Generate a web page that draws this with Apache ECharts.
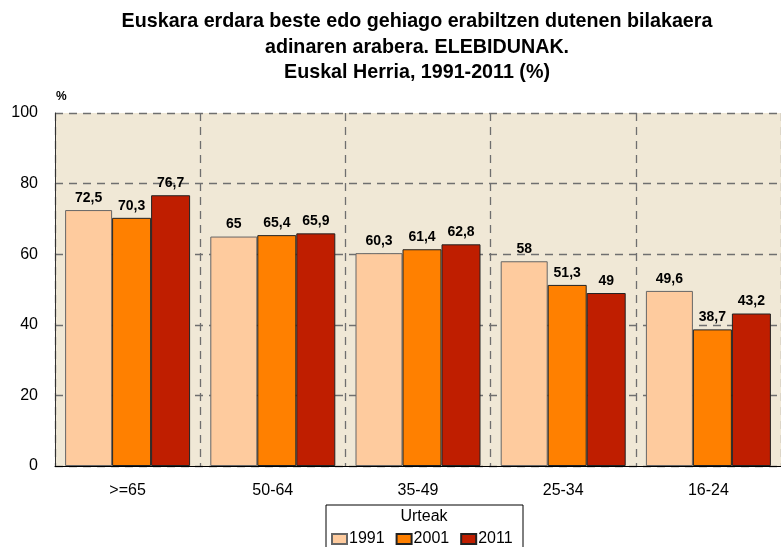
<!DOCTYPE html>
<html>
<head>
<meta charset="utf-8">
<script src="https://cdn.jsdelivr.net/npm/echarts@6/dist/echarts.min.js"></script>
<style>
  html, body { margin: 0; padding: 0; background: #fff; }
  #chart { width: 781px; height: 547px; }
</style>
</head>
<body>
<div id="chart"></div>
<script>
// adin taldeak
const categories = ['>=65', '50-64', '35-49', '25-34', '16-24']
const years = ['1991', '2001', '2011']
const values1991 = [72.5, 65, 60.3, 58, 49.6]
const values2001 = [70.3, 65.4, 61.4, 51.3, 38.7]
const values2011 = [76.7, 65.9, 62.8, 49, 43.2]
const yTicks = [0, 20, 40, 60, 80, 100]

const colors = ['#FECB9E', '#FF8000', '#BF1E00']
const widths = [47, 39, 39]
const seriesData = [values1991, values2001, values2011]

const chart = echarts.init(document.getElementById('chart'))

const fontFamily = 'Liberation Sans, Arial, sans-serif'

chart.setOption({
  animation: false,
  textStyle: { fontFamily: fontFamily },
  title: {
    text: 'Euskara erdara beste edo gehiago erabiltzen dutenen bilakaera\nadinaren arabera. ELEBIDUNAK.\nEuskal Herria, 1991-2011 (%)',
    left: 412,
    top: 4,
    textAlign: 'center',
    textStyle: {
      fontSize: 19.7,
      fontWeight: 'bold',
      color: '#000',
      lineHeight: 25.5,
      fontFamily: fontFamily,
    },
  },
  grid: {
    left: 55,
    top: 113,
    width: 736,
    height: 353,
    show: true,
    backgroundColor: '#F0E8D6',
    borderWidth: 0,
  },
  legend: {
    left: 331,
    top: 531,
    icon: 'rect',
    itemWidth: 15,
    itemHeight: 10,
    itemGap: 11,
    padding: 0,
    data: years,
    textStyle: { fontSize: 16, color: '#000', fontFamily: fontFamily, padding: [0, 0, 0, -3] },
  },
  graphic: [
    {
      type: 'rect',
      shape: { x: 326, y: 505, width: 197, height: 50 },
      style: { fill: 'none', stroke: '#000', lineWidth: 1 },
      z: 10,
    },
    {
      type: 'text',
      x: 424,
      y: 517,
      style: {
        text: 'Urteak',
        fill: '#000',
        font: '16px ' + fontFamily,
        align: 'center',
        verticalAlign: 'middle',
      },
      z: 10,
    },
  ],
  xAxis: {
    type: 'category',
    data: categories,
    axisLine: { lineStyle: { color: '#000', width: 1 } },
    axisTick: { show: false },
    axisLabel: { fontSize: 16, color: '#000', margin: 17 },
    splitLine: {
      show: true,
      lineStyle: { color: '#6f6f6f', type: [8, 6], width: 1.3 },
    },
  },
  yAxis: {
    type: 'value',
    min: yTicks[0],
    max: yTicks[yTicks.length - 1],
    interval: 20,
    name: '%',
    nameGap: 10,
    nameTextStyle: { fontSize: 12, fontWeight: 'bold', color: '#000', align: 'left', padding: [0, 0, 0, 1] },
    axisLine: { show: true, lineStyle: { color: '#333', width: 1 } },
    axisTick: { show: false },
    axisLabel: { fontSize: 16, color: '#000', margin: 17 },
    splitLine: {
      lineStyle: { color: '#6f6f6f', type: [8, 6], width: 1.3 },
    },
  },
  series: years.map((y, i) => ({
    name: y,
    type: 'bar',
    data: seriesData[i],
    barWidth: widths[i],
    barGap: '0%',
    itemStyle: {
      color: colors[i],
      borderColor: i === 0 ? '#666' : '#222',
      borderWidth: 1,
    },
    label: {
      show: true,
      position: 'top',
      distance: 5,
      fontSize: 14,
      fontWeight: 'bold',
      color: '#000',
      formatter: p => String(p.value).replace('.', ','),
    },
  })),
})
</script>
</body>
</html>
